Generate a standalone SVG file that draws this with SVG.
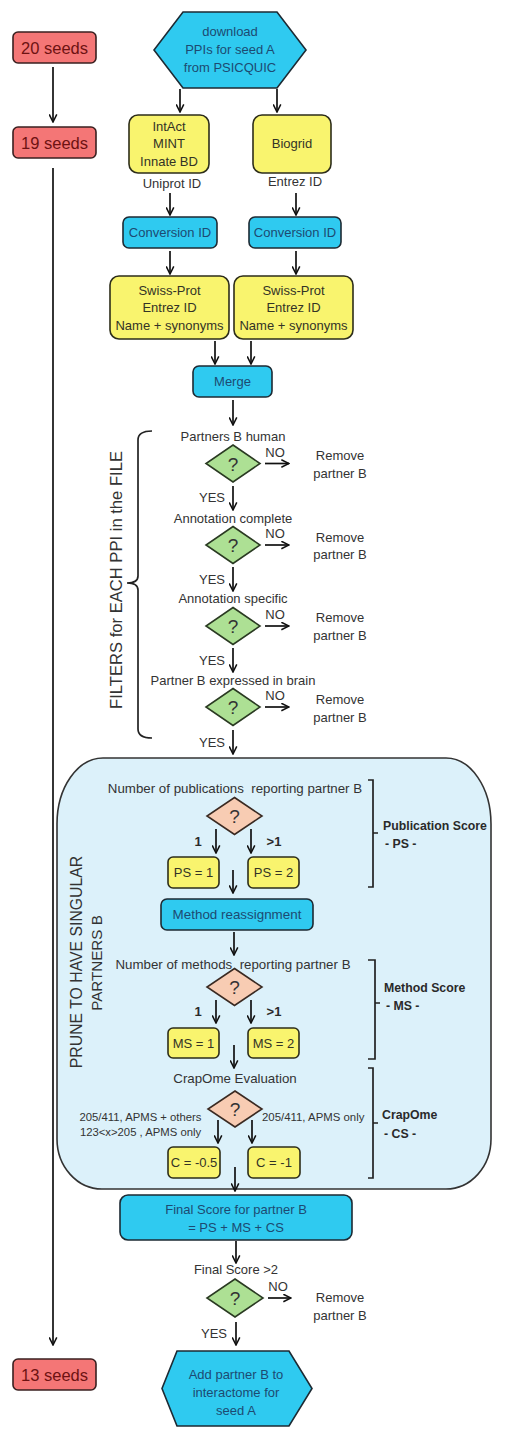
<svg xmlns="http://www.w3.org/2000/svg" width="522" height="1450" viewBox="0 0 522 1450">
<defs>
<marker id="ah" viewBox="0 0 10 10" refX="9" refY="5" markerWidth="9" markerHeight="9" markerUnits="userSpaceOnUse" orient="auto">
<path d="M0.5,0.8 L9,5 L0.5,9.2" fill="none" stroke="#111" stroke-width="1.7"/>
</marker>
<style>
text{font-family:"Liberation Sans",Arial,sans-serif;fill:#333;font-size:13px}
.c{text-anchor:middle}
.seed{fill:#f47676;stroke:#3a2020;stroke-width:1.6}
.seedt{fill:#6e1212;font-size:16.5px;text-anchor:middle}
.cyan{fill:#2fcaf0;stroke:#1d2a33;stroke-width:1.6}
.cyt{fill:#1d4a72;text-anchor:middle}
.yel{fill:#f9f46e;stroke:#2d2d1a;stroke-width:1.6}
.yt{fill:#333326;text-anchor:middle}
.grn{fill:#ade094;stroke:#2a3a22;stroke-width:1.6}
.pch{fill:#f8ccb3;stroke:#3a2a22;stroke-width:1.6}
.q{font-size:19px;text-anchor:middle;fill:#333}
.b{font-weight:bold;fill:#2a2a2a}
.con line{stroke:#111;stroke-width:1.7;marker-end:url(#ah)}
.br{fill:none;stroke:#222;stroke-width:1.7}
</style>
</defs>

<path id="prune-region" d="M103,758 L446,758 A45,66 0 0 1 491,824 L491,1139 A45,50 0 0 1 446,1189 L102,1189 A45,50 0 0 1 57,1139 L57,824 A46,66 0 0 1 103,758 Z" fill="#dcf1fa" stroke="#333" stroke-width="1.6"/>

<g id="seeds20"><rect class="seed" x="13" y="32" width="83" height="31" rx="5"/><text class="seedt" x="54.5" y="53.5">20 seeds</text></g>
<g id="seeds19"><rect class="seed" x="13" y="127" width="83" height="31" rx="5"/><text class="seedt" x="54.5" y="148.5">19 seeds</text></g>
<g id="seeds13"><rect class="seed" x="13" y="1359" width="83" height="31" rx="5"/><text class="seedt" x="54.5" y="1380.5">13 seeds</text></g>

<g id="download"><polygon class="cyan" points="183,12 277,12 306,50 277,88 183,88 154,50"/>
<text class="cyt" x="230" y="35.5">download</text><text class="cyt" x="230" y="53.5">PPIs for seed A</text><text class="cyt" x="230" y="71.5">from PSICQUIC</text></g>

<g id="intact"><rect class="yel" x="129" y="115" width="80" height="58" rx="9"/>
<text class="yt" x="169" y="130.5">IntAct</text><text class="yt" x="169" y="148">MINT</text><text class="yt" x="169" y="166">Innate BD</text></g>
<g id="biogrid"><rect class="yel" x="253" y="115" width="78" height="58" rx="9"/><text class="yt" x="292" y="148">Biogrid</text></g>
<text class="c" x="172" y="187.5">Uniprot ID</text>
<text class="c" x="295" y="186">Entrez ID</text>

<g id="conv1"><rect class="cyan" x="123" y="217" width="94" height="31" rx="6"/><text class="cyt" x="170" y="237">Conversion ID</text></g>
<g id="conv2"><rect class="cyan" x="249" y="217" width="92" height="31" rx="6"/><text class="cyt" x="295" y="237">Conversion ID</text></g>

<g id="swiss1"><rect class="yel" x="110" y="276" width="119" height="63" rx="9"/>
<text class="yt" x="169.5" y="294.5">Swiss-Prot</text><text class="yt" x="169.5" y="311.5">Entrez ID</text><text class="yt" x="169.5" y="329.5">Name + synonyms</text></g>
<g id="swiss2"><rect class="yel" x="234" y="276" width="119" height="63" rx="9"/>
<text class="yt" x="293.5" y="294.5">Swiss-Prot</text><text class="yt" x="293.5" y="311.5">Entrez ID</text><text class="yt" x="293.5" y="329.5">Name + synonyms</text></g>

<g id="merge"><rect class="cyan" x="193" y="366" width="79" height="31" rx="6"/><text class="cyt" x="232.5" y="386">Merge</text></g>

<g id="filter1"><text class="c" x="233" y="440.5">Partners B human</text>
<polygon class="grn" points="233,445 260,463.5 233,482 206,463.5"/><text class="q" x="233" y="470.5">?</text>
<text class="c" x="275" y="457">NO</text><text class="c" x="340" y="459.5">Remove</text><text class="c" x="340" y="477.5">partner B</text>
<text class="c" x="212" y="501.5">YES</text></g>

<g id="filter2"><text class="c" x="233" y="522.5">Annotation complete</text>
<polygon class="grn" points="233,526.5 260,545 233,563.5 206,545"/><text class="q" x="233" y="552">?</text>
<text class="c" x="275" y="538">NO</text><text class="c" x="340" y="541.5">Remove</text><text class="c" x="340" y="559">partner B</text>
<text class="c" x="212" y="583.5">YES</text></g>

<g id="filter3"><text class="c" x="233" y="602.5">Annotation specific</text>
<polygon class="grn" points="233,607.5 260,626 233,644.5 206,626"/><text class="q" x="233" y="633">?</text>
<text class="c" x="275" y="619">NO</text><text class="c" x="340" y="622">Remove</text><text class="c" x="340" y="639.5">partner B</text>
<text class="c" x="212" y="664.5">YES</text></g>

<g id="filter4"><text class="c" x="233" y="684.5">Partner B expressed in brain</text>
<polygon class="grn" points="233,688.5 260,707 233,725.5 206,707"/><text class="q" x="233" y="714">?</text>
<text class="c" x="275" y="700">NO</text><text class="c" x="340" y="703.5">Remove</text><text class="c" x="340" y="721.5">partner B</text>
<text class="c" x="212" y="746.5">YES</text></g>

<g id="filters-label">
<path class="br" d="M152,431 Q138,431 138,440 L138,576 Q138,583 127,583 Q138,583 138,590 L138,729 Q138,738 152,738"/>
<text class="c" transform="translate(122,580) rotate(-90)" x="0" y="0" style="font-size:16.6px">FILTERS for EACH PPI in the FILE</text>
</g>

<g id="prune-label">
<text class="c" transform="translate(82,962) rotate(-90)" x="0" y="0" style="font-size:15.8px">PRUNE TO HAVE SINGULAR</text>
<text class="c" transform="translate(102,963) rotate(-90)" x="0" y="0" style="font-size:15.2px">PARTNERS B</text>
</g>

<g id="publication">
<text class="c" x="235" y="792.5" xml:space="preserve" style="font-size:13.3px">Number of publications  reporting partner B</text>
<polygon class="pch" points="234.5,797.5 262,816 234.5,834.5 207,816"/><text class="q" x="234.5" y="823">?</text>
<text class="c b" x="198" y="845.5">1</text><text class="c b" x="274" y="845.5">&gt;1</text>
</g>
<g id="ps1"><rect class="yel" x="168" y="857" width="51" height="31" rx="5"/><text class="yt" x="193.5" y="877">PS = 1</text></g>
<g id="ps2"><rect class="yel" x="248" y="857" width="51" height="31" rx="5"/><text class="yt" x="273.5" y="877">PS = 2</text></g>
<g id="method-reassign"><rect class="cyan" x="161" y="899" width="152" height="31" rx="6"/><text class="cyt" x="237" y="919" style="font-size:13.4px">Method reassignment</text></g>
<g id="ps-label">
<path class="br" d="M368,780 L373,780 L373,887 L368,887 M373,833 L378,833"/>
<text class="b" x="383" y="829.5" style="font-size:12.3px">Publication Score</text>
<text class="b" x="385" y="847.5" style="font-size:12.3px">- PS -</text>
</g>

<g id="methods">
<text class="c" x="233" y="968.5" xml:space="preserve" style="font-size:13.3px">Number of methods  reporting partner B</text>
<polygon class="pch" points="234.5,968.5 262,987 234.5,1005.5 207,987"/><text class="q" x="234.5" y="994">?</text>
<text class="c b" x="198" y="1015.5">1</text><text class="c b" x="274" y="1015.5">&gt;1</text>
</g>
<g id="ms1"><rect class="yel" x="168" y="1028" width="51" height="30" rx="5"/><text class="yt" x="193.5" y="1047.5">MS = 1</text></g>
<g id="ms2"><rect class="yel" x="248" y="1028" width="51" height="30" rx="5"/><text class="yt" x="273.5" y="1047.5">MS = 2</text></g>
<g id="ms-label">
<path class="br" d="M368,960 L375,960 L375,1059 L368,1059 M375,1003 L380,1003"/>
<text class="b" x="384" y="991.5" style="font-size:12.3px">Method Score</text>
<text class="b" x="386" y="1009.5" style="font-size:12.3px">- MS -</text>
</g>

<g id="crapome">
<text class="c" x="235" y="1082.5" style="font-size:13.3px">CrapOme Evaluation</text>
<polygon class="pch" points="235,1091 262,1109 235,1127 208,1109"/><text class="q" x="235" y="1116">?</text>
<text class="c" x="140.5" y="1121" style="font-size:11.3px">205/411, APMS + others</text>
<text class="c" x="140.5" y="1136" style="font-size:11.3px">123&lt;x&gt;205 , APMS only</text>
<text x="262" y="1121" style="font-size:11.4px">205/411, APMS only</text>
</g>
<g id="c05"><rect class="yel" x="168" y="1147" width="52" height="31" rx="5"/><text class="yt" x="194" y="1167">C = -0.5</text></g>
<g id="c1"><rect class="yel" x="248" y="1147" width="52" height="31" rx="5"/><text class="yt" x="274" y="1167">C = -1</text></g>
<g id="cs-label">
<path class="br" d="M368,1068 L373,1068 L373,1178 L368,1178 M373,1123 L378,1123"/>
<text class="b" x="382" y="1118.5" style="font-size:12.3px">CrapOme</text>
<text class="b" x="384" y="1137.5" style="font-size:12.3px">- CS -</text>
</g>

<g id="final-score"><rect class="cyan" x="120" y="1195" width="232" height="45" rx="8"/>
<text class="cyt" x="236" y="1213.5">Final Score for partner B</text><text class="cyt" x="236" y="1231.5">= PS + MS + CS</text></g>

<g id="final-check"><text class="c" x="236" y="1273.5">Final Score &gt;2</text>
<polygon class="grn" points="235,1279 263,1298 235,1317 207,1298"/><text class="q" x="235" y="1305">?</text>
<text class="c" x="278" y="1290.5">NO</text><text class="c" x="340" y="1301.5">Remove</text><text class="c" x="340" y="1319.5">partner B</text>
<text class="c" x="214" y="1337.5">YES</text></g>

<g id="add-partner"><polygon class="cyan" points="177,1351 289,1351 312,1388.5 289,1426 177,1426 162,1388.5"/>
<text class="cyt" x="236" y="1378.5">Add partner B to</text><text class="cyt" x="236" y="1396.5">interactome for</text><text class="cyt" x="236" y="1414.5">seed A</text></g>

<g id="connectors" class="con">
<line x1="53" y1="67" x2="53" y2="122"/>
<line x1="53" y1="168" x2="53" y2="1345"/>
<line x1="180" y1="89" x2="180" y2="112"/>
<line x1="277" y1="89" x2="277" y2="112"/>
<line x1="170" y1="193" x2="170" y2="215"/>
<line x1="296" y1="193" x2="296" y2="215"/>
<line x1="170" y1="251" x2="170" y2="274"/>
<line x1="296" y1="251" x2="296" y2="274"/>
<line x1="215" y1="341" x2="215" y2="364"/>
<line x1="251" y1="341" x2="251" y2="364"/>
<line x1="233" y1="400" x2="233" y2="425"/>
<line x1="265" y1="463.5" x2="289" y2="463.5"/>
<line x1="233" y1="486" x2="233" y2="510"/>
<line x1="265" y1="545" x2="289" y2="545"/>
<line x1="233" y1="567" x2="233" y2="591"/>
<line x1="265" y1="626" x2="289" y2="626"/>
<line x1="233" y1="648" x2="233" y2="672"/>
<line x1="265" y1="707" x2="289" y2="707"/>
<line x1="233" y1="730" x2="233" y2="754"/>
<line x1="216" y1="829" x2="216" y2="853"/>
<line x1="251" y1="829" x2="251" y2="853"/>
<line x1="233" y1="870" x2="233" y2="893"/>
<line x1="234" y1="932" x2="234" y2="955"/>
<line x1="216" y1="1000" x2="216" y2="1023"/>
<line x1="251" y1="1000" x2="251" y2="1023"/>
<line x1="234" y1="1045" x2="234" y2="1068"/>
<line x1="218" y1="1120" x2="218" y2="1143"/>
<line x1="252" y1="1120" x2="252" y2="1143"/>
<line x1="235" y1="1167" x2="235" y2="1191"/>
<line x1="236" y1="1241" x2="236" y2="1263"/>
<line x1="268" y1="1298" x2="291" y2="1298"/>
<line x1="236" y1="1322" x2="236" y2="1345"/>
</g>
</svg>
